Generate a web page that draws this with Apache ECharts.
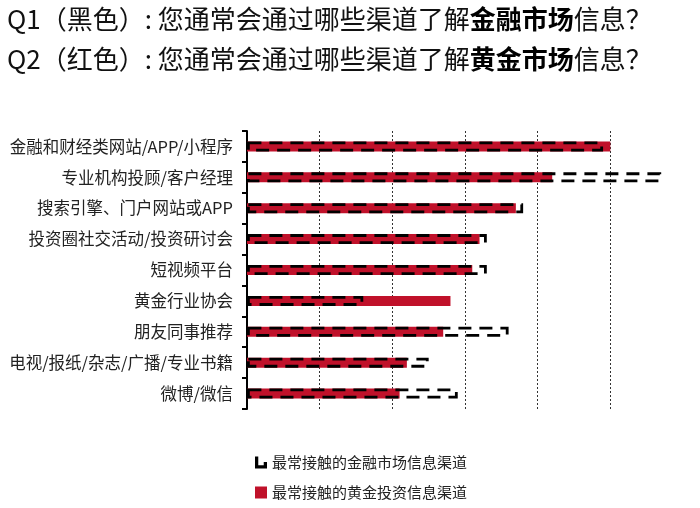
<!DOCTYPE html>
<html><head><meta charset="utf-8">
<script src="https://cdn.jsdelivr.net/npm/echarts@6/dist/echarts.min.js"></script>
<style>html,body{margin:0;padding:0;background:#fff}#c{width:700px;height:508px}</style>
</head><body><div id="c"></div>
<script>
const categories = ['金融和财经类网站/APP/小程序','专业机构投顾/客户经理','搜索引擎、门户网站或APP','投资圈社交活动/投资研讨会','短视频平台','黄金行业协会','朋友同事推荐','电视/报纸/杂志/广播/专业书籍','微博/微信'];
const financeValues = [49, 57, 38, 33, 33, 16, 36, 25, 29];
const goldValues = [50, 42, 37, 32, 31, 28, 27, 22, 21];
const seriesNames = ['最常接触的金融市场信息渠道','最常接触的黄金投资信息渠道'];
const titleLines = ['Q1（黑色）: 您通常会通过哪些渠道了解{b|金融市场}信息？','Q2（红色）: 您通常会通过哪些渠道了解{b|黄金市场}信息？'];

const FONT = '"Noto Sans CJK SC", "Noto Sans", sans-serif';
const chart = echarts.init(document.getElementById('c'));
const titleStyle = {
  fontFamily: FONT, fontSize: 26, color: '#111', fontWeight: 'normal',
  rich: { b: { fontFamily: FONT, fontSize: 26, fontWeight: 'bold', color: '#000' } }
};
chart.setOption({
  animation: false,
  textStyle: { fontFamily: FONT },
  title: [
    { text: titleLines[0], left: 2, top: 1, textStyle: titleStyle },
    { text: titleLines[1], left: 2, top: 41, textStyle: titleStyle }
  ],
  legend: {
    orient: 'vertical', left: 250, top: 450, itemGap: 15,
    itemWidth: 12, itemHeight: 12,
    textStyle: { fontFamily: FONT, fontSize: 15, color: '#222' },
    data: [
      { name: seriesNames[0], icon: 'path://M0,0 H3 V8 H8 V5 H11 V11 H0 Z', itemStyle: { color: '#000', borderWidth: 0 } },
      { name: seriesNames[1], icon: 'rect', itemStyle: { color: '#c0112a', borderWidth: 0 } }
    ]
  },
  grid: { left: 247, right: 17, top: 131, height: 278, containLabel: false },
  xAxis: {
    type: 'value', min: 0, max: 60, interval: 10,
    axisLine: { show: false }, axisTick: { show: false }, axisLabel: { show: false },
    splitLine: { show: true, showMinLine: false, showMaxLine: false, lineStyle: { color: '#333', type: [2, 2], width: 1 } }
  },
  yAxis: [{
    type: 'category', data: categories, inverse: true,
    axisLine: { show: true, lineStyle: { color: '#000', width: 2 } },
    axisTick: { show: true, length: 5, lineStyle: { color: '#000', width: 2 } },
    axisLabel: { fontFamily: FONT, fontSize: 16.5, color: '#222', margin: 14 }
  }, {
    type: 'category', data: categories, inverse: true, show: false
  }],
  series: [
    { name: seriesNames[1], type: 'bar', data: goldValues, barWidth: 10, yAxisIndex: 0,
      itemStyle: { color: '#c0112a' }, z: 2 },
    { name: seriesNames[0], type: 'bar', data: financeValues, barWidth: 10, yAxisIndex: 1,
      itemStyle: { color: 'rgba(0,0,0,0)', borderColor: '#000', borderWidth: 2.8, borderType: [13, 8] }, z: 3 }
  ]
});
</script></body></html>
